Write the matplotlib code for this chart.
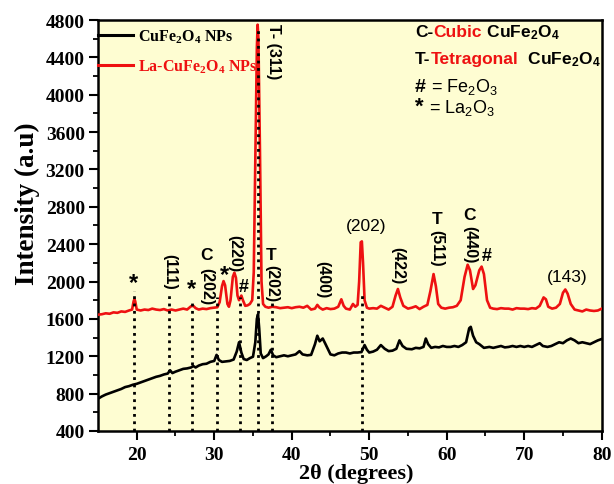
import matplotlib
matplotlib.use("Agg")
import matplotlib.pyplot as plt

plt.rcParams['mathtext.default'] = 'regular'

# ---------------- data ----------------
x_red = [15.0, 15.5, 16.0, 16.5, 17.0, 17.5, 18.0, 18.5, 19.0, 19.4, 19.6, 19.7, 19.8, 20.0,
         20.5, 21.0, 21.5, 22.0, 22.5, 23.0, 23.5, 24.0, 24.5, 25.0, 25.5, 26.0, 26.5, 27.0,
         27.3, 27.6, 28.0, 28.5, 29.0, 29.5, 30.0, 30.4, 30.7, 31.0, 31.2, 31.4, 31.7, 31.9,
         32.1, 32.4, 32.6, 32.8, 33.0, 33.2, 33.5, 33.7, 34.0, 34.3, 34.6, 34.9, 35.1, 35.3,
         35.5, 35.6, 35.7, 35.9, 36.1, 36.3, 36.6, 37.0, 37.5, 38.0, 38.5, 39.0, 39.5, 40.0,
         40.5, 41.0, 41.5, 42.0, 42.5, 43.0, 43.3, 43.6, 44.0, 44.5, 45.0, 45.5, 46.0, 46.4,
         46.7, 47.0, 47.5, 47.9, 48.2, 48.5, 48.7, 48.9, 49.05, 49.2, 49.4, 49.7, 50.0, 50.5,
         51.0, 51.5, 52.0, 52.5, 53.0, 53.4, 53.7, 54.0, 54.4, 55.0, 55.5, 56.0, 56.5, 57.0,
         57.5, 57.9, 58.3, 58.6, 58.9, 59.3, 59.8, 60.3, 60.8, 61.3, 61.8, 62.3, 62.7, 63.0,
         63.4, 63.7, 64.2, 64.5, 64.8, 65.2, 65.6, 66.0, 66.5, 67.0, 67.5, 68.0, 68.5, 69.0,
         69.5, 70.0, 70.5, 71.0, 71.5, 72.0, 72.5, 72.8, 73.1, 73.6, 74.1, 74.6, 75.0, 75.3,
         75.6, 76.0, 76.5, 77.0, 77.5, 78.0, 78.5, 79.0, 79.5, 80.0]
y_red = [1645, 1650, 1660, 1655, 1670, 1665, 1680, 1675, 1690, 1700, 1790, 1810, 1790, 1700,
         1690, 1700, 1695, 1710, 1700, 1695, 1705, 1690, 1700, 1690, 1700, 1710, 1700, 1735,
         1740, 1715, 1700, 1710, 1705, 1715, 1720, 1725, 1780, 1950, 2005, 1960, 1760, 1730,
         1800, 2050, 2095, 2040, 1850, 1800, 1850, 1800, 1740, 1745, 1760, 1800, 2100, 3300,
         4500, 4750, 4600, 3400, 2000, 1760, 1730, 1720, 1730, 1725, 1715, 1720, 1725, 1715,
         1725, 1730, 1720, 1740, 1700, 1710, 1750, 1720, 1700, 1715, 1705, 1710, 1730, 1810,
         1740, 1710, 1700, 1760, 1730, 1750, 2000, 2420, 2430, 2200, 1800, 1720, 1710, 1715,
         1710, 1740, 1720, 1700, 1730, 1850, 1920, 1830, 1740, 1710, 1720, 1735, 1705, 1730,
         1750, 1900, 2080, 1950, 1760, 1720, 1710, 1720, 1725, 1740, 1800, 2050, 2180, 2120,
         1920, 1960, 2120, 2160, 2080, 1800, 1720, 1710, 1705, 1715, 1710, 1710, 1700, 1715,
         1710, 1710, 1705, 1715, 1710, 1740, 1830, 1810, 1730, 1710, 1720, 1760, 1880, 1915,
         1870, 1760, 1700, 1690, 1680, 1700, 1690, 1685, 1690, 1710]

x_black = [15.0, 15.5, 16.0, 16.5, 17.0, 17.5, 18.0, 18.5, 19.0, 19.5, 20.0, 20.5, 21.0, 21.5,
           22.0, 22.5, 23.0, 23.5, 24.0, 24.3, 24.6, 25.0, 25.5, 26.0, 26.5, 27.0, 27.3, 27.6,
           28.0, 28.5, 29.0, 29.5, 30.0, 30.3, 30.6, 31.0, 31.5, 32.0, 32.5, 32.9, 33.2, 33.5,
           33.8, 34.2, 34.6, 35.0, 35.3, 35.5, 35.65, 35.8, 36.0, 36.3, 36.7, 37.0, 37.3, 37.6,
           38.0, 38.5, 39.0, 39.5, 40.0, 40.5, 41.0, 41.4, 42.0, 42.5, 43.0, 43.3, 43.6, 44.0,
           44.3, 44.7, 45.0, 45.5, 46.0, 46.5, 47.0, 47.5, 48.0, 48.5, 49.0, 49.4, 49.7, 50.0,
           50.5, 51.0, 51.5, 52.0, 52.5, 53.0, 53.5, 53.9, 54.3, 54.8, 55.5, 56.0, 56.5, 57.0,
           57.3, 57.6, 58.0, 58.5, 59.0, 59.5, 60.0, 60.5, 61.0, 61.5, 62.0, 62.5, 62.9, 63.1,
           63.4, 63.8, 64.2, 64.8, 65.5, 66.0, 66.5, 67.0, 67.5, 68.0, 68.5, 69.0, 69.5, 70.0,
           70.5, 71.0, 71.5, 72.0, 72.4, 73.0, 73.5, 74.0, 74.5, 75.0, 75.5, 76.0, 76.5, 77.0,
           77.5, 78.0, 78.5, 79.0, 79.5, 80.0]
y_black = [745, 770, 790, 805, 820, 835, 850, 870, 880, 895, 905, 920, 935, 950,
           965, 980, 990, 1005, 1015, 1050, 1020, 1035, 1050, 1065, 1070, 1080, 1095, 1080,
           1100, 1115, 1120, 1140, 1150, 1215, 1160, 1140, 1145, 1150, 1165, 1250, 1350, 1240,
           1170, 1160, 1180, 1195, 1350, 1600, 1650, 1500, 1230, 1180, 1200, 1220, 1270, 1210,
           1190, 1200, 1210, 1200, 1210, 1220, 1255, 1220, 1210, 1215, 1330, 1420, 1360, 1390,
           1340, 1270, 1220, 1210, 1230, 1240, 1240, 1230, 1240, 1240, 1245, 1320, 1270, 1240,
           1250, 1270, 1320, 1280, 1255, 1260, 1280, 1370, 1310, 1280, 1275, 1290, 1285, 1300,
           1390, 1330, 1290, 1300, 1295, 1310, 1300, 1300, 1310, 1300, 1320, 1350, 1500, 1515,
           1420, 1350, 1330, 1290, 1300, 1290, 1300, 1310, 1295, 1300, 1310, 1300, 1310, 1300,
           1310, 1300, 1320, 1340, 1310, 1300, 1310, 1330, 1350, 1340, 1370, 1390, 1370, 1340,
           1350, 1340, 1330, 1350, 1370, 1385]

series_labels = ['CuFe$\\mathregular{_2}$O$\\mathregular{_4}$ NPs',
                 'La-CuFe$\\mathregular{_2}$O$\\mathregular{_4}$ NPs']

# dotted reference lines
ref_x = [19.6, 24.2, 27.1, 30.3, 33.3, 35.7, 37.4, 49.1]
ref_top = [1900, 1865, 1812, 1830, 1830, 4720, 1790, 1870]

# annotations: (text, x, y, rotation, size, bold)
peak_labels = [
    ('*', 19.6, 1990, 0, 17, True),
    ('(111)', 24.2, 2110, 270, 11.5, True),
    ('*', 27.1, 1930, 0, 17, True),
    ('C', 29.0, 2290, 0, 12.5, True),
    ('(202)', 29.0, 1960, 270, 11.5, True),
    ('*', 31.3, 2080, 0, 17, True),
    ('(220)', 32.6, 2310, 270, 11.5, True),
    ('#', 33.8, 1950, 0, 13, True),
    ('T- (311)', 37.6, 4470, 270, 11.5, True),
    ('T', 37.3, 2290, 0, 12.5, True),
    ('(202)', 37.4, 1990, 270, 11.5, True),
    ('(400)', 44.0, 2030, 270, 11.5, True),
    ('(202)', 49.6, 2597, 0, 12.5, False),
    ('(422)', 53.7, 2180, 270, 11.5, True),
    ('T', 58.7, 2670, 0, 12.5, True),
    ('(511)', 58.7, 2370, 270, 11.5, True),
    ('C', 63.0, 2720, 0, 12.5, True),
    ('(440)', 63.0, 2405, 270, 11.5, True),
    ('#', 65.1, 2280, 0, 13, True),
    ('(143)', 75.5, 2050, 0, 12.5, False),
]

xticks = [20, 30, 40, 50, 60, 70, 80]
yticks = [400, 800, 1200, 1600, 2000, 2400, 2800, 3200, 3600, 4000, 4400, 4800]

# ---------------- figure ----------------
serif = 'Liberation Serif'
sans = 'Liberation Sans'
red = '#ee1111'

fig = plt.figure(figsize=(6.14, 4.85), dpi=100)
ax = fig.add_axes([0.1596, 0.1093, 0.8204, 0.8474])
ax.set_facecolor('#FEFDD2')

l1, = ax.plot(x_black, y_black, color='black', lw=1.9, label=series_labels[0], zorder=3)
l2, = ax.plot(x_red, y_red, color=red, lw=1.9, label=series_labels[1], zorder=3)
ax.vlines(ref_x, 400, ref_top, colors='black', linestyles=':', lw=2.0, zorder=4)

for txt, xx, yy, rot, sz, bold in peak_labels:
    ax.text(xx, yy, txt, rotation=rot, fontsize=sz, fontfamily=sans,
            fontweight='bold' if bold else 'normal', ha='center', va='center',
            rotation_mode='anchor', zorder=5)

ax.set_xlim(15, 80)
ax.set_ylim(400, 4800)
ax.set_xticks(xticks)
ax.set_yticks(yticks)
ax.set_xticks([25, 35, 45, 55, 65, 75], minor=True)
ax.set_yticks(list(range(600, 4800, 400)), minor=True)
ax.tick_params(which='major', direction='out', length=6.5, width=1.5, top=False, right=False)
ax.tick_params(which='minor', direction='out', length=3.5, width=1.3, top=False, right=False)
ax.tick_params(axis='x', pad=4.5)
ax.tick_params(axis='y', pad=3)
for lab in ax.get_xticklabels() + ax.get_yticklabels():
    lab.set_fontfamily(serif)
    lab.set_fontweight('bold')
    lab.set_fontsize(14)
for sp in ax.spines.values():
    sp.set_linewidth(1.8)

ax.set_xlabel('2θ (degrees)', fontsize=16, fontfamily=serif, fontweight='bold',
              va='baseline')
ax.xaxis.set_label_coords(0.512, -0.1155)
ax.set_ylabel('Intensity (a.u)', fontsize=19.5, fontfamily=serif, fontweight='bold')
ax.yaxis.set_label_coords(-0.116, 0.555)

leg = ax.legend(handles=[l1, l2], loc='upper left', bbox_to_anchor=(0.0, 0.982),
                frameon=False, borderaxespad=0.0, borderpad=0.0, handlelength=2.2,
                handletextpad=0.3, labelspacing=0.81,
                prop={'family': serif, 'weight': 'bold', 'size': 11.5})
leg.get_texts()[1].set_color(red)
for h in leg.legend_handles:
    h.set_linewidth(2.2)

# phase key (multi-coloured text, baseline aligned)
renderer = fig.canvas.get_renderer()


def chain(parts, x, y):
    xd = x
    for s, c, sz, w in parts:
        t = ax.text(xd, y, s, color=c, fontsize=sz, fontweight=w, fontfamily=sans,
                    ha='left', va='baseline')
        bb = t.get_window_extent(renderer=renderer)
        xd = ax.transData.inverted().transform((bb.x1, bb.y0))[0]


chain([('C-', 'black', 12.5, 'bold'), ('Cubic', red, 12.5, 'bold'),
       (' CuFe$_2$O$_4$', 'black', 12.5, 'bold')], 55.9, 4630)
chain([('T-', 'black', 12.5, 'bold'), ('Tetragonal', red, 12.5, 'bold'),
       ('  CuFe$_2$O$_4$', 'black', 12.5, 'bold')], 55.9, 4335)
chain([('#', 'black', 14, 'bold'), (' = Fe$_2$O$_3$', 'black', 13, 'normal')], 55.9, 4045)
chain([('*', 'black', 16, 'bold'), (' = La$_2$O$_3$', 'black', 13, 'normal')], 55.9, 3815)

fig.savefig('out.png', dpi=100, facecolor='white')
